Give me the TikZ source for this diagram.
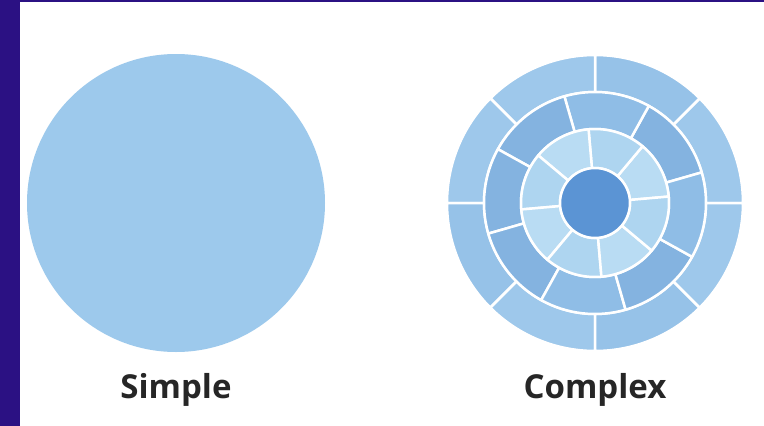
\documentclass[tikz,border=0pt]{standalone}
\usepackage{fontspec}
\setmainfont{Open Sans}
\definecolor{frame}{HTML}{2B1183}
\definecolor{plain}{HTML}{9DC9EC}
\definecolor{outerA}{HTML}{9EC8EB}
\definecolor{outerB}{HTML}{96C2E8}
\definecolor{midA}{HTML}{8FBDE6}
\definecolor{midB}{HTML}{84B3E0}
\definecolor{innA}{HTML}{B9DCF3}
\definecolor{innB}{HTML}{AED5F0}
\definecolor{core}{HTML}{5B94D4}
\definecolor{labeltext}{HTML}{262626}
\tikzset{
  seg/.style={draw=white, line width=2.5pt, line join=round},
  caption/.style={anchor=base, text=labeltext, font=\fontsize{33}{33}\selectfont\bfseries}
}
\begin{document}
\begin{tikzpicture}[x=1pt,y=-1pt]
\useasboundingbox (0,0) rectangle (764,426);
\fill[white] (0,0) rectangle (764,426);
\fill[frame] (0,0) rectangle (20,426);
\fill[frame] (0,0) rectangle (764,2);

				\begin{scope}[shift={(176,203)}]
	\fill[plain] (0,0) circle[radius=149pt];
				\end{scope}

				\begin{scope}[shift={(595,203)}]
	% outer ring
	\foreach \a/\c in {0/outerA,45/outerB,90/outerA,135/outerA,180/outerB,225/outerA,270/outerB,315/outerA}
	  \draw[seg, fill=\c] (\a:111pt) -- (\a:148pt) arc[start angle=\a, delta angle=45, radius=148pt]
	    -- ({\a+45}:111pt) arc[start angle={\a+45}, delta angle=-45, radius=111pt] -- cycle;
	% middle ring
	\foreach \a/\c in {16/midB,61/midA,106/midB,151/midB,196/midB,241/midA,286/midB,331/midA}
	  \draw[seg, fill=\c] (\a:74pt) -- (\a:111pt) arc[start angle=\a, delta angle=45, radius=111pt]
	    -- ({\a+45}:74pt) arc[start angle={\a+45}, delta angle=-45, radius=74pt] -- cycle;
	% inner ring
	\foreach \a/\c in {5/innA,50/innB,95/innA,140/innB,185/innA,230/innB,275/innA,320/innB}
	  \draw[seg, fill=\c] (\a:35pt) -- (\a:74pt) arc[start angle=\a, delta angle=45, radius=74pt]
	    -- ({\a+45}:35pt) arc[start angle={\a+45}, delta angle=-45, radius=35pt] -- cycle;
	\draw[seg, fill=core] (0,0) circle[radius=35pt];
	\draw[white, line width=1.5pt] (0,0) circle[radius=148pt];
				\end{scope}

\node[caption] (simple) at (176,398) {Simple};
\node[caption] (complex) at (595,398) {Complex};
\end{tikzpicture}
\end{document}
